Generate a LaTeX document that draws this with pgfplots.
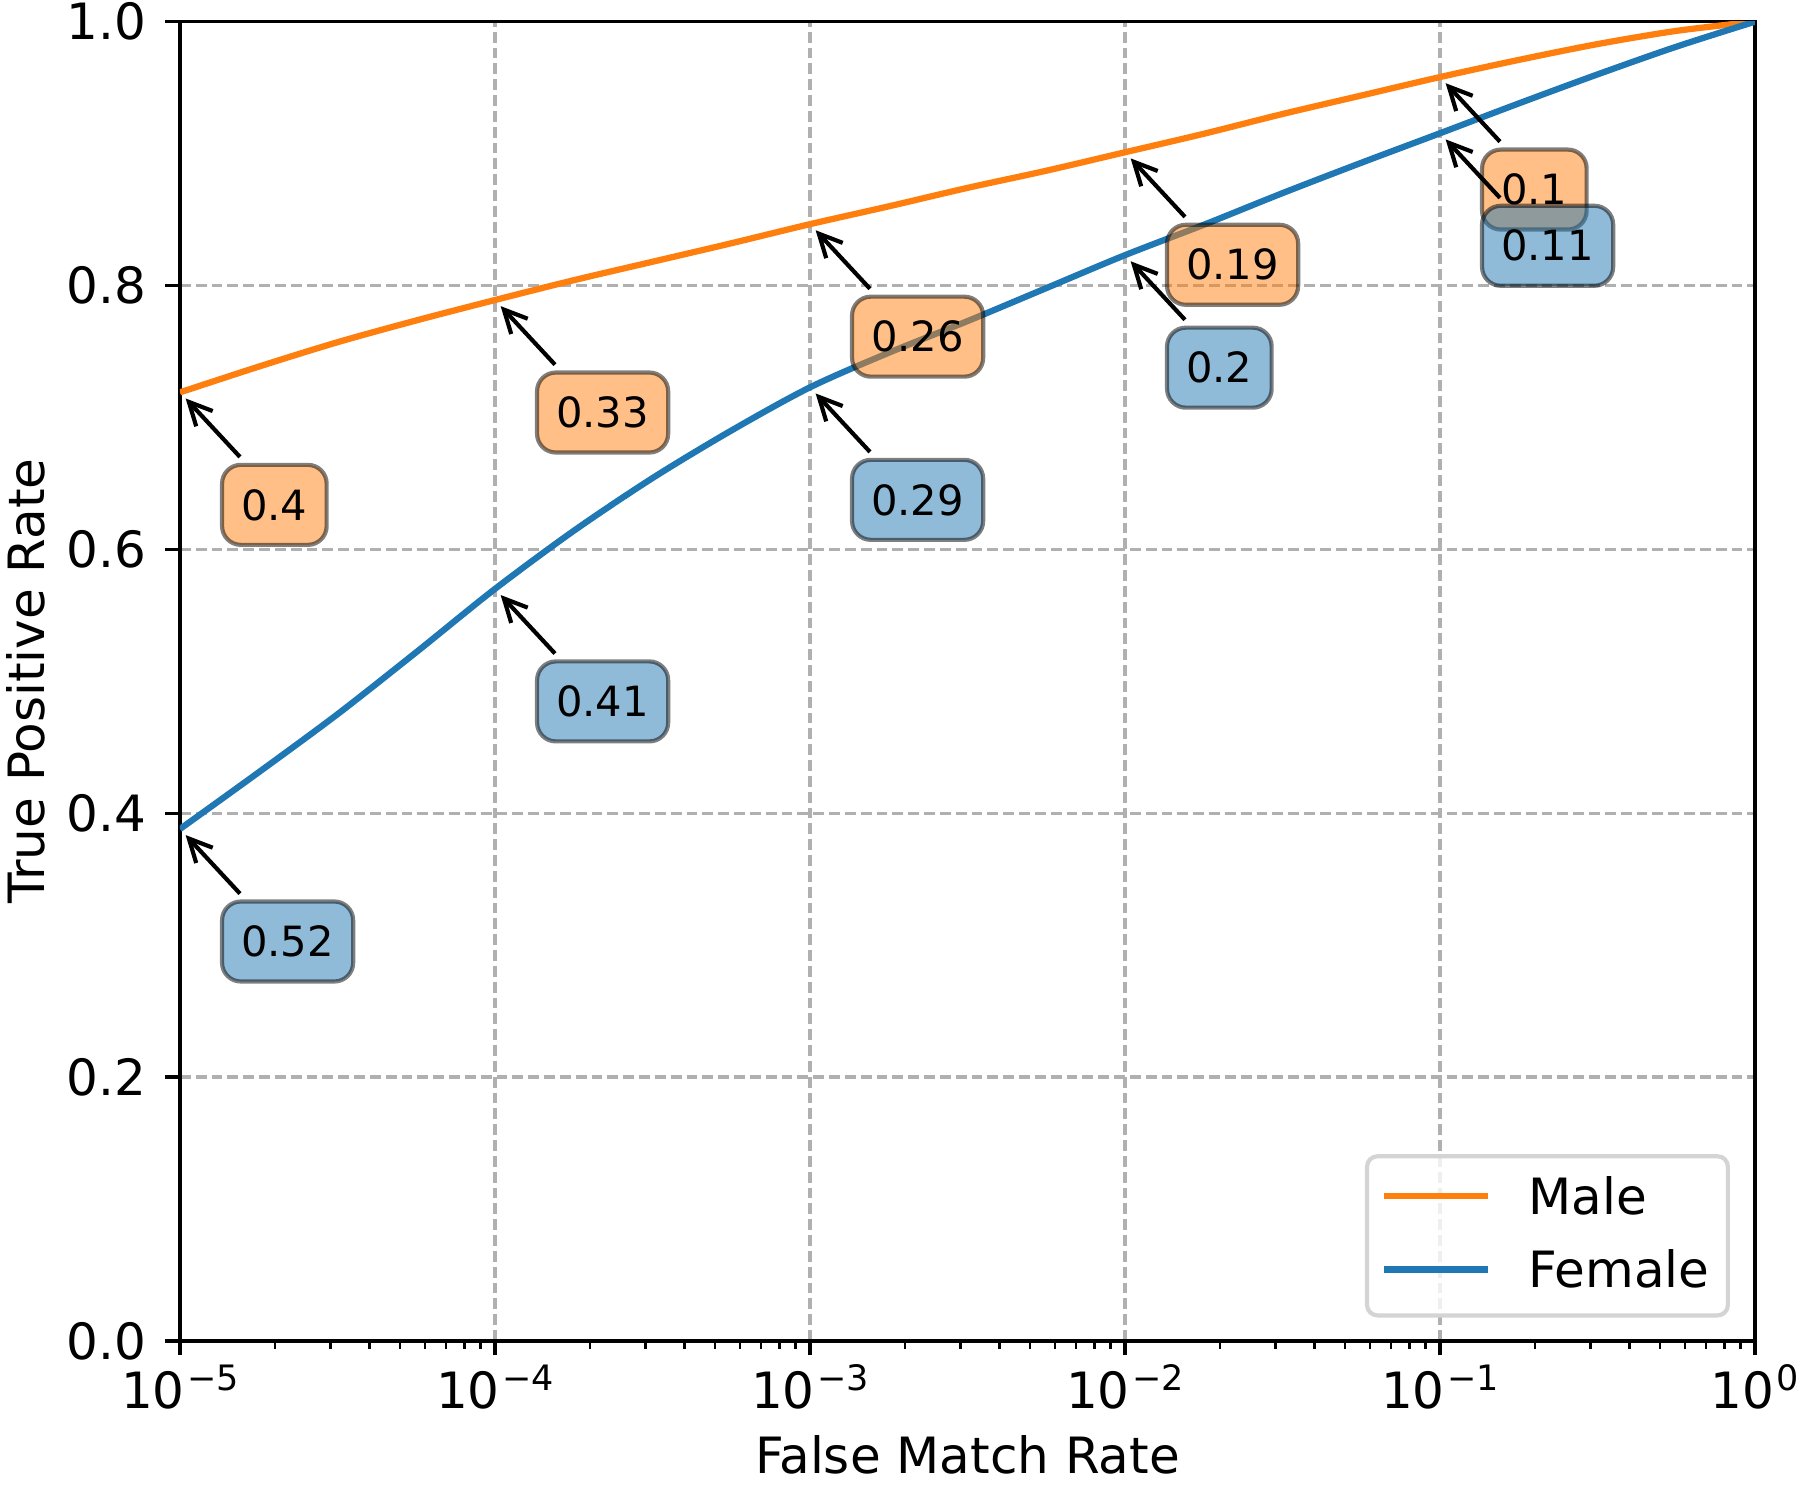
\documentclass[border=0pt]{standalone}
\usepackage{fontspec}
\setmainfont{DejaVu Sans}
\usepackage{pgfplots}
\pgfplotsset{compat=1.18}
\usetikzlibrary{arrows.meta}
\definecolor{mplorange}{HTML}{FF7F0E}
\definecolor{mplblue}{HTML}{1F77B4}
\definecolor{gridgray}{HTML}{B0B0B0}
\newcommand{\sci}[1]{10\kern0.6pt\raisebox{4.4pt}{\fontsize{8.4}{8.4}\selectfont #1}}

\pgfplotstableread{
x y
1e-5 0.719
1.778e-5 0.7385
3.162e-5 0.757
5.623e-5 0.7735
1e-4 0.789
1.778e-4 0.804
3.162e-4 0.818
5.623e-4 0.832
1e-3 0.8465
1.778e-3 0.860
3.162e-3 0.874
5.623e-3 0.887
1e-2 0.901
1.778e-2 0.915
3.162e-2 0.930
5.623e-2 0.944
1e-1 0.958
1.778e-1 0.971
3.162e-1 0.983
5.623e-1 0.993
1 1.000
}\male

\pgfplotstableread{
x y
1e-5 0.388
1.778e-5 0.431
3.162e-5 0.475
5.623e-5 0.522
1e-4 0.570
1.778e-4 0.614
3.162e-4 0.654
5.623e-4 0.690
1e-3 0.7228
1.778e-3 0.749
3.162e-3 0.773
5.623e-3 0.798
1e-2 0.823
1.778e-2 0.846
3.162e-2 0.870
5.623e-2 0.893
1e-1 0.9154
1.778e-1 0.938
3.162e-1 0.960
5.623e-1 0.981
1 1.000
}\female

\tikzset{
  annarrow/.style={-{Straight Barb[length=5.5pt,width=5.4pt]}, line width=1pt, shorten >=2pt, black},
  annbox/.style={draw=black, draw opacity=0.5, fill opacity=0.5, text opacity=1,
    line width=1pt, rounded corners=4.5pt, inner xsep=4.6pt, inner ysep=0pt,
    minimum height=19.2pt, font=\fontsize{10}{12}\selectfont, anchor=west}
}
\newcommand{\ann}[4]{%
  \draw[annarrow] ([shift={(14.4pt,-15.5pt)}]axis cs:#1,#2) -- (axis cs:#1,#2);
  \node[annbox, fill=#3] at ([shift={(9.6pt,-27pt)}]axis cs:#1,#2) {#4};
}

\begin{document}
\begin{tikzpicture}
\useasboundingbox (-43.2pt,-38.2pt) rectangle (388.8pt,321.8pt);
\begin{axis}[
  at={(0,0)}, anchor=south west,
  scale only axis, width=378pt, height=316.6pt,
  xmode=log, xmin=1e-5, xmax=1, ymin=0, ymax=1,
  no marks,
  xtick={1e-5,1e-4,1e-3,1e-2,1e-1,1},
  xticklabels={\sci{−5},\sci{−4},\sci{−3},\sci{−2},\sci{−1},\sci{0}},
  minor xtick={2e-5,3e-5,4e-5,5e-5,6e-5,7e-5,8e-5,9e-5,
    2e-4,3e-4,4e-4,5e-4,6e-4,7e-4,8e-4,9e-4,
    2e-3,3e-3,4e-3,5e-3,6e-3,7e-3,8e-3,9e-3,
    2e-2,3e-2,4e-2,5e-2,6e-2,7e-2,8e-2,9e-2,
    2e-1,3e-1,4e-1,5e-1,6e-1,7e-1,8e-1,9e-1},
  ytick={0,0.2,0.4,0.6,0.8,1},
  yticklabels={0.0,0.2,0.4,0.6,0.8,1.0},
  tick pos=left, tick align=outside,
  major tick length=3.5pt, minor tick length=2pt,
  every tick/.style={black, line width=0.8pt},
  minor tick style={line width=0.6pt},
  axis line style={line width=0.8pt},
  grid=major,
  major grid style={gridgray, line width=0.8pt, dash pattern=on 2.6pt off 1.2pt},
  tick label style={font=\fontsize{12}{14.4}\selectfont},
  xticklabel style={anchor=base, yshift=-12.7pt},
  yticklabel style={inner xsep=4.5pt},
  xlabel={False Match Rate},
  ylabel={True Positive Rate},
  every axis x label/.style={at={([yshift=-31.8pt]axis description cs:0.5,0)}, anchor=base, font=\fontsize{12}{14.4}\selectfont},
  every axis y label/.style={at={([xshift=-32.6pt]axis description cs:0,0.5)}, rotate=90, anchor=base, font=\fontsize{12}{14.4}\selectfont},
  legend cell align=left,
  legend image code/.code={\draw[#1, line width=1.5pt] (0pt,0.7pt) -- (25pt,0.7pt);},
  legend style={
    at={(1,0)}, anchor=south east, xshift=-6pt, yshift=5.6pt,
    draw=black!17, line width=1pt, rounded corners=2.5pt,
    fill=white, fill opacity=0.8, draw opacity=1, text opacity=1,
    font=\fontsize{12}{14.4}\selectfont,
    inner xsep=3.3pt, inner ysep=4.9pt, row sep=6.8pt,
    nodes={inner sep=0pt, text height=9.1pt, text depth=1.7pt, text width=44.5pt, align=left},
    /tikz/every odd column/.append style={column sep=9pt},
  },
]
\addplot[mplorange, line width=1.5pt, smooth] table {\male};
\addplot[mplblue, line width=1.5pt, smooth] table {\female};
\legend{Male, Female}

\ann{1e-5}{0.719}{mplorange}{0.4}
\ann{1e-4}{0.789}{mplorange}{0.33}
\ann{1e-3}{0.8465}{mplorange}{0.26}
\ann{1e-2}{0.901}{mplorange}{0.19}
\ann{1e-1}{0.958}{mplorange}{0.1}
\ann{1e-5}{0.388}{mplblue}{0.52}
\ann{1e-4}{0.570}{mplblue}{0.41}
\ann{1e-3}{0.7228}{mplblue}{0.29}
\ann{1e-2}{0.823}{mplblue}{0.2}
\ann{1e-1}{0.9154}{mplblue}{0.11}
\end{axis}
\end{tikzpicture}
\end{document}
